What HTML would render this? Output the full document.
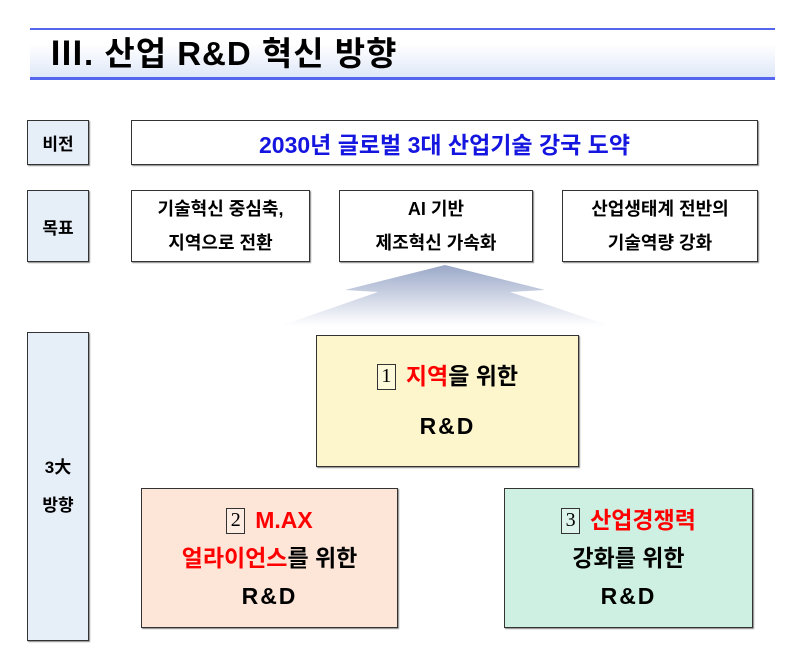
<!DOCTYPE html>
<html><head><meta charset="utf-8">
<style>
body{margin:0;width:800px;height:670px;background:#fff;position:relative;overflow:hidden;font-family:"Liberation Sans","Noto Sans CJK KR","NanumGothic",sans-serif;font-weight:bold;color:#000}
div{position:absolute;box-sizing:border-box}
.b{border:1px solid #333;box-shadow:1px 1px 1px #888;display:flex;align-items:center;justify-content:center;text-align:center}
.lab{background:#e6eef8;font-size:17px}
.g{background:#fff;font-size:18px;line-height:34px}
.n{display:inline-block;border:1px solid #333;font-family:"Liberation Serif",serif;font-weight:normal;font-size:20px;line-height:22px;width:17px;height:24px;margin-right:10px;vertical-align:2px;background:rgba(255,255,255,.3)}
.big{font-size:23px;line-height:38px}
.r{color:#f00}
.rd{letter-spacing:2px}
</style></head><body>
<div style="left:30px;top:28px;width:745px;height:52px;background:linear-gradient(#fff 30%,#dfe8f8);border-top:2px solid #5566ee;border-bottom:3px solid #5566ee"></div>
<div style="left:50px;top:33px;font-size:33px;line-height:42px;letter-spacing:1px">Ⅲ. 산업 R&amp;D 혁신 방향</div>

<div class="b lab" style="left:27px;top:120px;width:62px;height:45px">비전</div>
<div class="b" style="left:131px;top:120px;width:627px;height:45px;color:#1515e0;font-size:23px">2030년 글로벌 3대 산업기술 강국 도약</div>

<div class="b lab" style="left:27px;top:190px;width:62px;height:72px">목표</div>
<div class="b g" style="left:131px;top:190px;width:179px;height:72px">기술혁신 중심축,<br>지역으로 전환</div>
<div class="b g" style="left:339px;top:190px;width:194px;height:72px">AI 기반<br>제조혁신 가속화</div>
<div class="b g" style="left:562px;top:190px;width:196px;height:72px">산업생태계 전반의<br>기술역량 강화</div>

<svg style="position:absolute;left:0;top:0" width="800" height="670">
<defs><linearGradient id="a" x1="0" y1="0" x2="0" y2="1"><stop offset="0" stop-color="#9aa8c8"/><stop offset="1" stop-color="#fff"/></linearGradient></defs>
<polygon points="445,265 545,290 510,292 610,326 280,326 378,292 345,290" fill="url(#a)"/>
</svg>

<div class="b lab" style="left:27px;top:332px;width:62px;height:309px;line-height:38px">3大<br>방향</div>
<div class="b big" style="left:316px;top:335px;width:263px;height:132px;background:#fdf6cc;line-height:50px"><span><span class="n">1</span><span class="r">지역</span>을 위한<br><span class="rd">R&amp;D</span></span></div>
<div class="b big" style="left:141px;top:488px;width:257px;height:140px;background:#fde5d7"><span><span class="n">2</span><span class="r">M.AX</span><br><span class="r">얼라이언스</span>를 위한<br><span class="rd">R&amp;D</span></span></div>
<div class="b big" style="left:504px;top:488px;width:249px;height:140px;background:#cdf0e2"><span><span class="n">3</span><span class="r">산업경쟁력</span><br>강화를 위한<br><span class="rd">R&amp;D</span></span></div>
</body></html>
